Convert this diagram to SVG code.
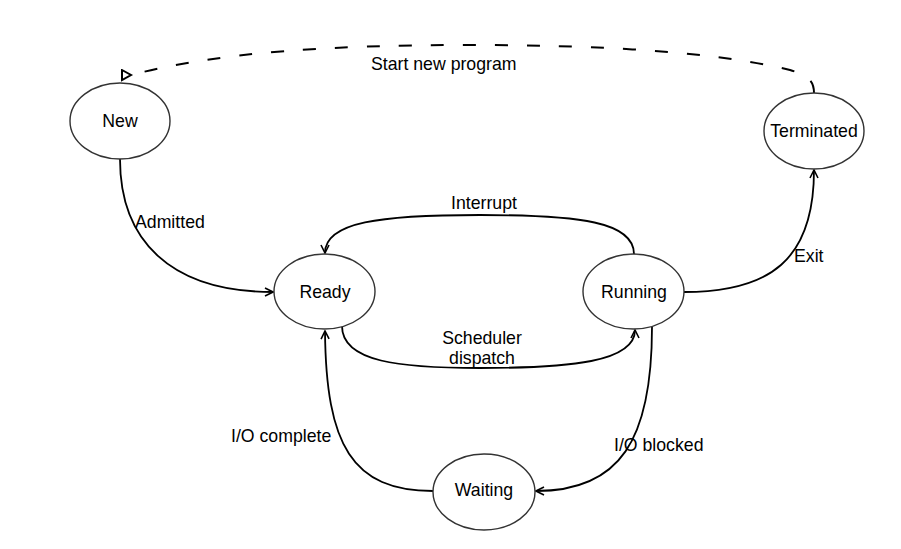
<svg xmlns="http://www.w3.org/2000/svg" width="901" height="549" viewBox="0 0 901 549">
<style>
.node ellipse{fill:#fff;stroke:#333;stroke-width:1.4}
.node text,.lbl{font-family:"Liberation Sans",Arial,sans-serif;font-size:17.7px;fill:#000}
.node text{text-anchor:middle}
.edge{fill:none;stroke:#000;stroke-width:1.8}
.dash{stroke-dasharray:13 19;stroke-width:2}
</style>
<defs>
<marker id="open" viewBox="0 0 10 10" refX="9" refY="5" markerWidth="10" markerHeight="10" markerUnits="userSpaceOnUse" orient="auto">
<path d="M1,1 L9,5 L1,9" fill="none" stroke="#000" stroke-width="1.6"/>
</marker>
<marker id="tri" viewBox="0 0 14 14" refX="11" refY="6" markerWidth="14" markerHeight="14" markerUnits="userSpaceOnUse" orient="0">
<path d="M2,1 L11,6 L2,11 Z" fill="#fff" stroke="#000" stroke-width="2" stroke-dasharray="none"/>
</marker>
</defs>
<rect width="901" height="549" fill="#fff"/>
<g id="connectors">
<path class="edge dash" d="M814,93 C814,82 810,76 790,70 C700,48 560,45 470,45 C330,45 220,52 131,75" marker-end="url(#tri)"/>
<path class="edge" d="M120,159 C120,240 170,292 273,292" marker-end="url(#open)"/>
<path class="edge" d="M634,254 C634,222 580,215 480,215 C380,215 325,222 325,253" marker-end="url(#open)"/>
<path class="edge" d="M342,326 C342,362 400,368 480,368 C570,368 635,362 635,330" marker-end="url(#open)"/>
<path class="edge" d="M684,292 C770,292 814,260 814,170" marker-end="url(#open)"/>
<path class="edge" d="M652,327 C652,440 620,491 536,491" marker-end="url(#open)"/>
<path class="edge" d="M433,491 C352,491 326,445 325,331" marker-end="url(#open)"/>
<text class="lbl" x="371" y="70">Start new program</text>
<text class="lbl" x="135" y="228">Admitted</text>
<text class="lbl" x="484" y="209" text-anchor="middle">Interrupt</text>
<text class="lbl" x="482" y="344" text-anchor="middle">Scheduler</text>
<text class="lbl" x="482" y="364" text-anchor="middle">dispatch</text>
<text class="lbl" x="794" y="262">Exit</text>
<text class="lbl" x="231" y="442">I/O complete</text>
<text class="lbl" x="614" y="451">I/O blocked</text>
</g>
<g id="new" class="node"><ellipse cx="120" cy="121" rx="50" ry="38"/><text x="120" y="127">New</text></g>
<g id="terminated" class="node"><ellipse cx="814" cy="131" rx="50" ry="38"/><text x="814" y="137">Terminated</text></g>
<g id="ready" class="node"><ellipse cx="324.5" cy="291.5" rx="50.5" ry="37.5"/><text x="325" y="297.5">Ready</text></g>
<g id="running" class="node"><ellipse cx="633.5" cy="291.5" rx="50.5" ry="37.5"/><text x="634" y="297.5">Running</text></g>
<g id="waiting" class="node"><ellipse cx="484" cy="492" rx="51" ry="38"/><text x="484" y="496">Waiting</text></g>
</svg>
